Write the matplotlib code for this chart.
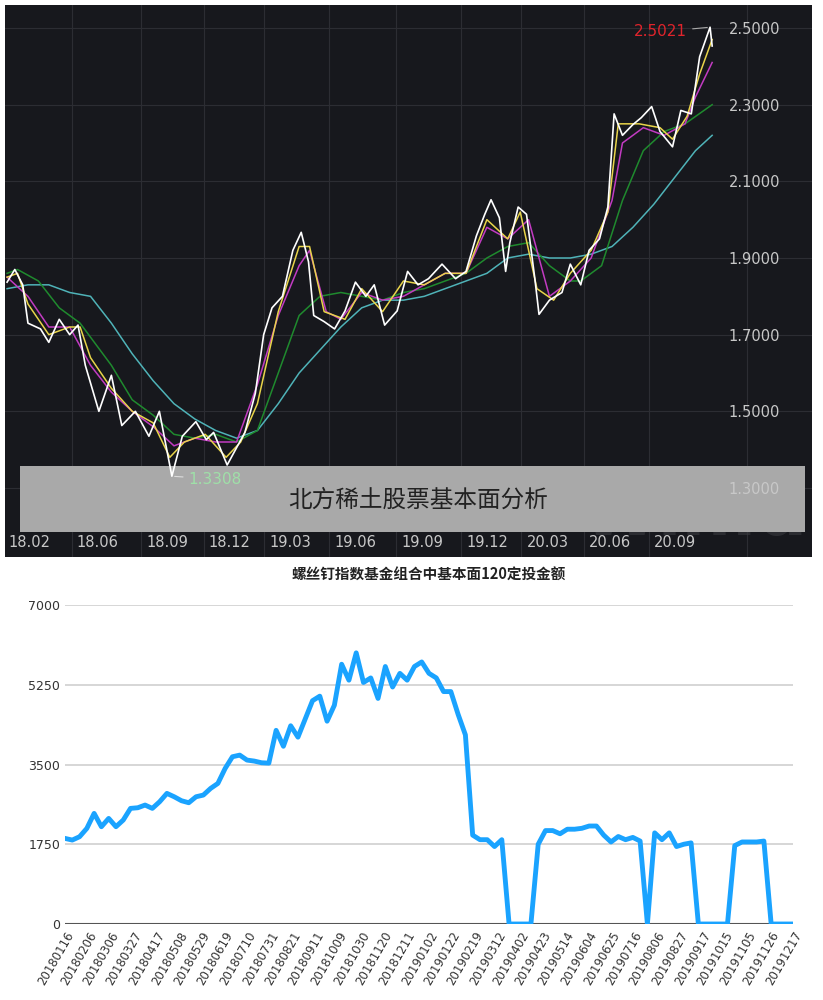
import matplotlib
matplotlib.use("Agg")
import matplotlib.pyplot as plt

# ---------------- top chart data (month-position, price) ----------------
price_t = [0.0, 0.37, 0.75, 1.0, 1.6, 2.0, 2.5, 3.0, 3.4, 3.75, 4.4, 5.0, 5.5, 6.15, 6.8, 7.3, 7.9, 8.4,
           9.05, 9.55, 9.9, 10.55, 11.4, 11.9, 12.3, 12.7, 13.2, 13.7, 14.1, 14.45, 14.7, 15.2, 15.7,
           16.2, 16.7, 17.2, 17.6, 18.1, 18.7, 19.2, 19.7, 20.2, 20.85, 21.5, 22.0, 22.5, 22.9, 23.2,
           23.6, 23.9, 24.1, 24.5, 24.9, 25.3, 25.5, 26.0, 26.6, 27.0, 27.5, 27.9, 28.4, 28.8, 29.1,
           29.5, 30.0, 30.4, 30.9, 31.3, 31.9, 32.3, 32.8, 33.2, 33.7, 33.8]
price_v = [1.837, 1.87, 1.83, 1.73, 1.715, 1.68, 1.74, 1.70, 1.725, 1.62, 1.50, 1.594, 1.463, 1.50, 1.435,
           1.50, 1.3308, 1.435, 1.473, 1.426, 1.445, 1.36, 1.445, 1.547, 1.70, 1.77, 1.80, 1.92, 1.967,
           1.89, 1.75, 1.734, 1.715, 1.762, 1.837, 1.80, 1.83, 1.725, 1.762, 1.865, 1.83, 1.846, 1.884,
           1.846, 1.865, 1.958, 2.014, 2.052, 2.005, 1.865, 1.94, 2.033, 2.014, 1.846, 1.753, 1.79, 1.81,
           1.884, 1.83, 1.92, 1.95, 2.033, 2.276, 2.22, 2.248, 2.266, 2.295, 2.23, 2.19, 2.285, 2.276,
           2.425, 2.5021, 2.453]
ma_fast_t = [0.0, 0.5, 1.0, 2.0, 3.0, 3.5, 4.0, 5.0, 6.0, 7.0, 7.8, 8.5, 9.5, 10.5, 11.2, 12.0, 13.0,
             14.0, 14.5, 15.2, 16.2, 17.0, 18.0, 19.0, 20.0, 21.0, 22.0, 23.0, 24.0, 24.6, 25.4, 26.2,
             27.0, 28.0, 28.8, 29.3, 30.3, 31.3, 31.9, 32.6, 33.2, 33.8]
ma_fast_v = [1.85, 1.86, 1.78, 1.70, 1.72, 1.72, 1.64, 1.56, 1.50, 1.47, 1.38, 1.42, 1.44, 1.38, 1.42,
             1.52, 1.76, 1.93, 1.93, 1.76, 1.74, 1.82, 1.76, 1.84, 1.83, 1.86, 1.86, 2.00, 1.95, 2.02,
             1.82, 1.79, 1.86, 1.92, 2.02, 2.25, 2.25, 2.24, 2.21, 2.27, 2.38, 2.47]
ma20_t = [0, 1, 2, 3, 4, 5, 6, 7, 8, 9, 10, 11, 12, 13, 14, 14.5, 15.3, 16, 17, 18, 19, 20, 21, 22, 23,
          24, 25, 26, 27, 28, 29, 29.5, 30.5, 31.5, 32.5, 33, 33.8]
ma20_v = [1.85, 1.80, 1.72, 1.72, 1.62, 1.55, 1.50, 1.46, 1.41, 1.43, 1.42, 1.42, 1.57, 1.75, 1.88, 1.92,
          1.76, 1.74, 1.81, 1.79, 1.80, 1.83, 1.86, 1.86, 1.98, 1.95, 2.00, 1.80, 1.84, 1.90, 2.05, 2.20,
          2.24, 2.22, 2.25, 2.32, 2.41]
ma60_t = [0, 0.5, 1.5, 2.5, 3.5, 5, 6, 7, 8, 9, 10, 11, 12, 13, 14, 15, 16, 17, 18, 19, 20, 21, 22, 23,
          24, 25, 26, 27, 27.5, 28.5, 29.5, 30.5, 31.5, 32.5, 33.8]
ma60_v = [1.86, 1.87, 1.84, 1.77, 1.73, 1.62, 1.53, 1.49, 1.44, 1.43, 1.44, 1.42, 1.45, 1.60, 1.75, 1.80,
          1.81, 1.80, 1.79, 1.81, 1.82, 1.84, 1.86, 1.90, 1.93, 1.94, 1.88, 1.84, 1.84, 1.88, 2.05, 2.18,
          2.23, 2.25, 2.30]
ma120_t = [0, 1, 2, 3, 4, 5, 6, 7, 8, 9, 10, 11, 12, 13, 14, 15, 16, 17, 18, 19, 20, 21, 22, 23, 24, 25,
           26, 27, 28, 29, 30, 31, 32, 33, 33.8]
ma120_v = [1.82, 1.83, 1.83, 1.81, 1.80, 1.73, 1.65, 1.58, 1.52, 1.48, 1.45, 1.43, 1.45, 1.52, 1.60,
           1.66, 1.72, 1.77, 1.79, 1.79, 1.80, 1.82, 1.84, 1.86, 1.90, 1.91, 1.90, 1.90, 1.91, 1.93, 1.98,
           2.04, 2.11, 2.18, 2.22]
date_tick_pos = [0.07, 3.34, 6.66, 9.67, 12.56, 15.7, 18.9, 22.0, 24.9, 27.9, 31.0]
date_tick_labels = ["18.02", "18.06", "18.09", "18.12", "19.03", "19.06", "19.09", "19.12",
                    "20.03", "20.06", "20.09"]
price_ticks = [1.3, 1.5, 1.7, 1.9, 2.1, 2.3, 2.5]

# ---------------- bottom chart data ----------------
amounts = [1878, 1842, 1915, 2098, 2427, 2135, 2317, 2135, 2281, 2537, 2551, 2610, 2537, 2683, 2866,
           2792, 2705, 2661, 2792, 2829, 2975, 3085, 3414, 3670, 3706, 3597, 3575, 3538, 3530, 4250,
           3900, 4350, 4100, 4500, 4900, 5000, 4450, 4800, 5700, 5350, 5950, 5300, 5400, 4950, 5650,
           5200, 5500, 5350, 5650, 5750, 5500, 5400, 5100, 5100, 4600, 4150, 1950, 1850, 1850, 1700,
           1850, 0, 0, 0, 0, 1750, 2050, 2050, 1980, 2080, 2080, 2100, 2150, 2150, 1950, 1800, 1920,
           1850, 1900, 1820, 0, 2000, 1850, 2000, 1700, 1750, 1780, 0, 0, 0, 0, 0, 1720, 1800, 1800,
           1800, 1820, 0, 0, 0, 0]
week_labels = ["20180116", "20180206", "20180306", "20180327", "20180417", "20180508", "20180529",
               "20180619", "20180710", "20180731", "20180821", "20180911", "20181009", "20181030",
               "20181120", "20181211", "20190102", "20190122", "20190219", "20190312", "20190402",
               "20190423", "20190514", "20190604", "20190625", "20190716", "20190806", "20190827",
               "20190917", "20191015", "20191105", "20191126", "20191217"]
amount_ticks = [0, 1750, 3500, 5250, 7000]
title = "螺丝钉指数基金组合中基本面120定投金额"

cjk = "Noto Sans CJK SC"
fig = plt.figure(figsize=(8.23, 10), dpi=100)
fig.patch.set_facecolor("white")

# ---------- top ----------
ax = fig.add_axes([5/823, 1-557/1000, 807/823, 552/1000])
ax.set_facecolor("#17181d")
x0 = -0.1
ax.set_xlim(x0, x0 + 807/20.86)
ax.set_ylim(1.3 - 69*0.002609, 2.5 + 23*0.002609)
for s in ax.spines.values():
    s.set_visible(False)
ax.set_xticks(date_tick_pos)
ax.set_xticklabels(date_tick_labels, ha="left", color="#c8c8c8", fontsize=10.5)
ax.tick_params(axis="x", length=0, pad=-16)
ax.yaxis.tick_right()
ax.set_yticks(price_ticks)
ax.set_yticklabels([f"{v:.4f}" for v in price_ticks], color="#c8c8c8", fontsize=10.5)
ax.tick_params(axis="y", length=0, pad=-60)
for p in date_tick_pos:
    ax.axvline(p - 0.25, color="#2c2d33", lw=0.8, zorder=0.5)
for p in price_ticks:
    ax.axhline(p, color="#2c2d33", lw=0.8, zorder=0.5)
ax.axvline(x0 + 742/20.86, color="#2c2d33", lw=0.8, zorder=0.5)
ax.text(0.995, 0.015, "Win.d", transform=ax.transAxes, ha="right", va="bottom", fontsize=50,
        fontweight="bold", color="#3a3b40", alpha=0.6, zorder=0.6)
ax.add_patch(plt.Rectangle((15/807, 25/552), 785/807, 66/552, transform=ax.transAxes,
                           facecolor="#a9a9a9", edgecolor="none", zorder=1))
ax.text(413/807, 57/552, "北方稀土股票基本面分析", transform=ax.transAxes, fontfamily=cjk,
        fontsize=17, color="#222222", ha="center", va="center", zorder=1.2, fontweight="light")
ax.plot(ma120_t, ma120_v, color="#4fb3b8", lw=1.1, zorder=2)
ax.plot(ma60_t, ma60_v, color="#1f8a2e", lw=1.1, zorder=2)
ax.plot(ma20_t, ma20_v, color="#c23bc2", lw=1.1, zorder=2)
ax.plot(ma_fast_t, ma_fast_v, color="#e8d44a", lw=1.1, zorder=2)
ax.plot(price_t, price_v, color="white", lw=1.2, zorder=2.1)
ax.annotate("2.5021", xy=(33.7, 2.5021), xytext=(32.6, 2.49), color="#e0242c", fontsize=11,
            ha="right", va="center", zorder=3,
            arrowprops=dict(arrowstyle="-", color="#aaaaaa", lw=0.8))
ax.annotate("1.3308", xy=(7.9, 1.3308), xytext=(8.7, 1.323), color="#9fe0a8", fontsize=11,
            ha="left", va="center", zorder=3,
            arrowprops=dict(arrowstyle="-", color="#dddddd", lw=0.8))
ax.xaxis.set_zorder(2.5)
ax.yaxis.set_zorder(2.5)

# ---------- bottom ----------
bx = fig.add_axes([65/823, 76/1000, 728/823, 319/1000])
xs = list(range(len(amounts)))
bx.plot(xs, amounts, color="#1aa3ff", lw=3.5, solid_joinstyle="round", zorder=3)
bx.set_xlim(0, len(amounts) - 1)
bx.set_ylim(0, 7000)
bx.set_yticks(amount_ticks)
bx.set_yticklabels([str(v) for v in amount_ticks], fontsize=9, color="#333333")
n_lab = len(week_labels)
bx.set_xticks([i * (len(amounts) - 1) / (n_lab - 1) for i in range(n_lab)])
bx.set_xticklabels(week_labels, rotation=60, ha="right", fontsize=8.5, color="#333333",
                   rotation_mode="anchor")
bx.tick_params(length=0)
bx.tick_params(axis="x", pad=4)
bx.grid(True, axis="y", color="#d0d0d0", lw=1.2)
for s in bx.spines.values():
    s.set_visible(False)
bx.axhline(0, color="#555555", lw=1.5, zorder=2)
bx.set_title(title, fontfamily=cjk, fontsize=10.5, fontweight="bold", pad=18, color="#222222")

fig.savefig("out.png", dpi=100)
